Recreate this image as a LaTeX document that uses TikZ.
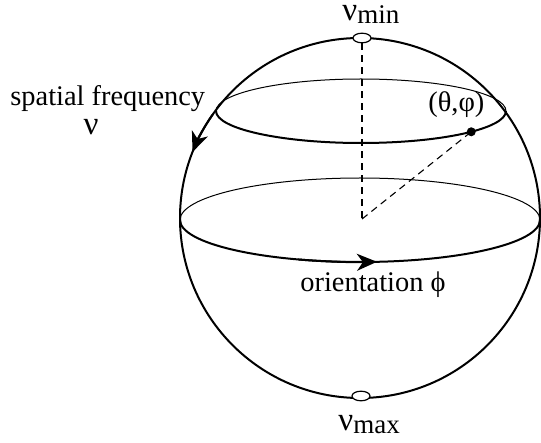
\documentclass[tikz,border=0pt]{standalone}
\usepackage{fontspec}
\setmainfont{Liberation Serif}
\usetikzlibrary{arrows.meta,shapes.geometric,calc}
\begin{document}
\begin{tikzpicture}[x=0.5pt,y=-0.5pt,
  font=\rmfamily\fontsize{14.2}{17}\selectfont,
  thickline/.style={line width=1pt},
  thinline/.style={line width=0.5pt},
  dashline/.style={line width=0.55pt, dash pattern=on 3.5pt off 2.5pt},
  arrowtip/.style={-{Stealth[length=10pt,width=8.5pt,inset=3pt]}},
  pole/.style={ellipse, draw, fill=white, line width=0.6pt, minimum width=9pt, minimum height=4.8pt, inner sep=0pt},
  lab/.style={inner sep=0pt, anchor=base west}]
\newcommand\bignu{{\fontsize{16.5}{16.5}\selectfont ν}}
\useasboundingbox (0,0) rectangle (541,443);
\coordinate (C) at (360,218);
% sphere outline
\draw[thickline] (C) circle [radius=180];
% equator: back (thin) and front (thick)
\coordinate (EqC) at (360,220);
\draw[thinline] (180,220) arc[start angle=180,end angle=360,x radius=180,y radius=42];
\draw[thickline] (180,220) arc[start angle=180,end angle=0,x radius=180,y radius=42];
% upper latitude circle
\coordinate (LatC) at (361,111);
\draw[thinline] (216,111) arc[start angle=180,end angle=360,x radius=145,y radius=32];
\draw[thickline] (216,111) arc[start angle=180,end angle=0,x radius=145,y radius=32];
% arrow on the meridian (spatial frequency)
\draw[thickline,arrowtip] (C) ++(215:180) arc[start angle=215,end angle=201.5,radius=180];
% arrow on the equator (orientation)
\draw[thickline,arrowtip] (EqC) ++(110:180 and 42) arc[start angle=110,end angle=84.6,x radius=180,y radius=42];
% poles
\node[pole] (top) at (362,38) {};
\node[pole] (bot) at (361,396) {};
% centre and point
\coordinate (O) at (362,219);
\coordinate (P) at ($(LatC)+(40.5:145 and 32)$);
\draw[dashline] (top.south) -- (O);
\draw[dashline] (O) -- (P);
\fill (P) circle [radius=4.5];
% labels
\node[lab] (numin) at (342,21) {\bignu\raisebox{-1.5pt}{\fontsize{13.5}{13.5}\selectfont min}};
\node[lab] (numax) at (338,430) {\bignu\raisebox{-1.5pt}{\fontsize{13.5}{13.5}\selectfont max}};
\node[lab] (sf) at (10,106) {spatial frequency};
\node[inner sep=0pt, anchor=base] (nu) at (91,135) {\bignu};
\node[lab] (thph) at (428,112) {(θ,φ)};
\node[lab] (ori) at (300,292) {orientation ϕ};
\end{tikzpicture}
\end{document}
